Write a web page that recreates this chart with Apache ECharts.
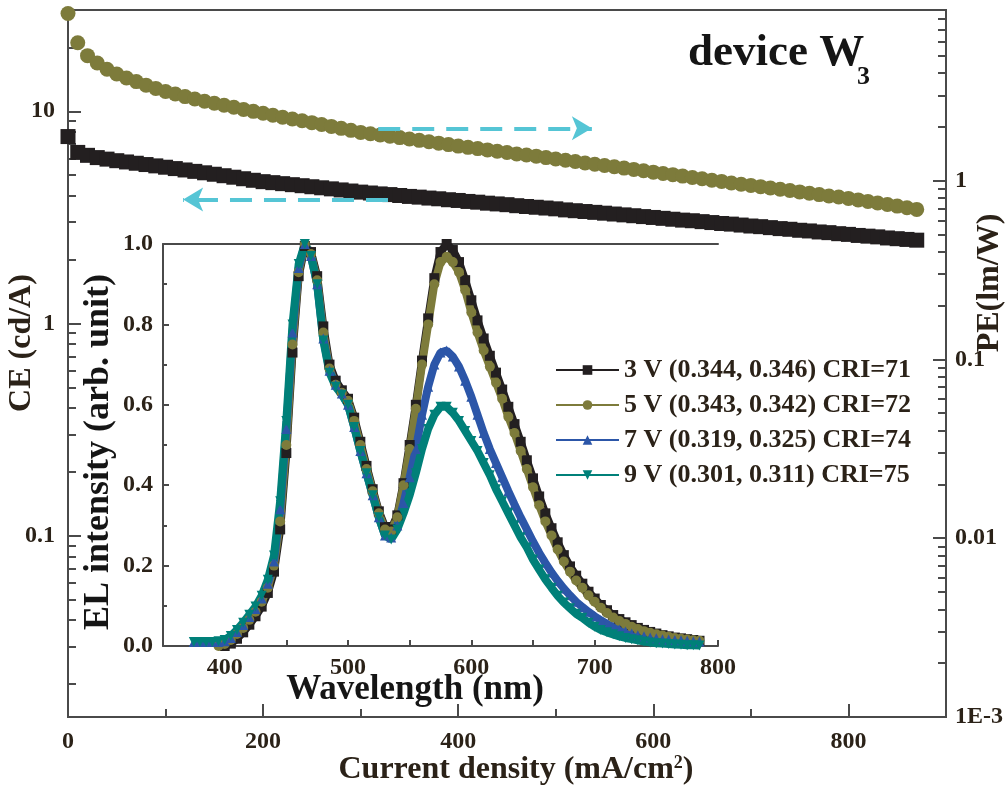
<!DOCTYPE html>
<html>
<head>
<meta charset="utf-8">
<title>device W3</title>
<script src="https://cdn.jsdelivr.net/npm/echarts@6/dist/echarts.min.js"></script>
<style>
  html, body { margin: 0; padding: 0; background: #fff; }
  #chart { width: 1008px; height: 789px; }
</style>
</head>
<body>
<div id="chart"></div>
<script>
// main plot: CE / PE vs current density (mA/cm2)
const currentDensity = [
  0, 10, 20, 30, 40, 50, 60, 70, 80, 90,
  100, 110, 120, 130, 140, 150, 160, 170, 180, 190,
  200, 210, 220, 230, 240, 250, 260, 270, 280, 290,
  300, 310, 320, 330, 340, 350, 360, 370, 380, 390,
  400, 410, 420, 430, 440, 450, 460, 470, 480, 490,
  500, 510, 520, 530, 540, 550, 560, 570, 580, 590,
  600, 610, 620, 630, 640, 650, 660, 670, 680, 690,
  700, 710, 720, 730, 740, 750, 760, 770, 780, 790,
  800, 810, 820, 830, 840, 850, 860, 870
];
const ceValues = [
  7.6, 6.4, 6.2, 6.05, 5.95, 5.85, 5.77, 5.69, 5.61, 5.53,
  5.45, 5.37, 5.29, 5.21, 5.13, 5.05, 4.97, 4.89, 4.81, 4.73,
  4.66, 4.61, 4.56, 4.51, 4.46, 4.41, 4.36, 4.31, 4.26, 4.21,
  4.16, 4.12, 4.08, 4.05, 4.01, 3.97, 3.94, 3.90, 3.87, 3.83,
  3.80, 3.76, 3.73, 3.69, 3.66, 3.63, 3.59, 3.56, 3.53, 3.50,
  3.47, 3.43, 3.40, 3.37, 3.34, 3.31, 3.28, 3.25, 3.22, 3.19,
  3.16, 3.13, 3.10, 3.07, 3.05, 3.02, 2.99, 2.96, 2.94, 2.91,
  2.88, 2.86, 2.83, 2.80, 2.78, 2.75, 2.73, 2.70, 2.68, 2.65,
  2.63, 2.60, 2.58, 2.56, 2.53, 2.51, 2.49, 2.47
];
const peValues = [
  8.6, 5.9, 5.0, 4.55, 4.2, 3.95, 3.75, 3.58, 3.42, 3.28,
  3.15, 3.05, 2.95, 2.86, 2.78, 2.71, 2.64, 2.57, 2.5, 2.44,
  2.38, 2.32, 2.26, 2.21, 2.16, 2.11, 2.06, 2.01, 1.96, 1.91,
  1.86, 1.83, 1.80, 1.77, 1.74, 1.71, 1.68, 1.65, 1.62, 1.59,
  1.56, 1.535, 1.51, 1.485, 1.46, 1.435, 1.41, 1.39, 1.37, 1.345,
  1.32, 1.30, 1.28, 1.255, 1.235, 1.215, 1.195, 1.175, 1.155, 1.135,
  1.115, 1.095, 1.08, 1.06, 1.04, 1.025, 1.005, 0.99, 0.97, 0.955,
  0.94, 0.925, 0.91, 0.895, 0.88, 0.865, 0.85, 0.835, 0.82, 0.81,
  0.795, 0.78, 0.765, 0.75, 0.735, 0.72, 0.705, 0.69
];

// inset: EL spectra (normalized)
const wavelength = [
  375, 380, 385, 390, 395, 400, 405, 410, 415, 420,
  425, 430, 435, 440, 445, 450, 455, 460, 465, 470,
  475, 480, 485, 490, 495, 500, 505, 510, 515, 520,
  525, 530, 535, 540, 545, 550, 555, 560, 565, 570,
  575, 580, 585, 590, 595, 600, 605, 610, 615, 620,
  625, 630, 635, 640, 645, 650, 655, 660, 665, 670,
  675, 680, 685, 690, 695, 700, 705, 710, 715, 720,
  725, 730, 735, 740, 745, 750, 755, 760, 765, 770,
  775, 780, 785
];
const el3V = [
  null, null, null, null, null, 0, .006, .018, .034, .053,
  .074, .098, .132, .185, .29, .48, .73, .92, .995, .98,
  .92, .795, .7, .66, .636, .615, .568, .508, .448, .39,
  .335, .296, .29, .325, .405, .5, .6, .71, .815, .915,
  .98, 1.0, .985, .955, .91, .86, .81, .765, .722, .68,
  .638, .595, .552, .508, .462, .417, .372, .33, .293, .258,
  .226, .198, .175, .155, .135, .118, .102, .089, .077, .067,
  .059, .052, .045, .04, .035, .031, .027, .024, .021, .019,
  .017, .015, .013
];
const el5V = [
  null, null, null, null, 0, .005, .015, .03, .045, .065,
  .085, .11, .145, .2, .31, .5, .75, .93, 1.0, .975,
  .91, .78, .69, .65, .63, .61, .56, .5, .44, .385,
  .33, .29, .285, .32, .4, .49, .59, .7, .8, .9,
  .955, .968, .955, .93, .885, .83, .78, .735, .695, .655,
  .615, .57, .53, .485, .44, .395, .35, .31, .275, .24,
  .21, .185, .163, .145, .126, .11, .095, .082, .071, .062,
  .055, .048, .042, .037, .033, .029, .026, .023, .02, .018,
  .016, .014, .013
];
const el7V = [
  .01, .01, .01, .01, .01, .012, .02, .035, .052, .072,
  .092, .118, .155, .21, .34, .54, .78, .94, 1.0, .97,
  .9, .765, .685, .65, .628, .6, .545, .485, .43, .375,
  .32, .275, .27, .3, .355, .42, .49, .575, .645, .7,
  .73, .735, .72, .695, .66, .62, .575, .53, .49, .455,
  .42, .385, .352, .32, .29, .26, .232, .207, .183, .162,
  .143, .126, .11, .097, .085, .074, .064, .055, .047, .041,
  .036, .031, .027, .024, .021, .019, .017, .016, .015, .014,
  .013, .012, .011
];
const el9V = [
  .01, .01, .01, .01, .012, .015, .025, .04, .058, .078,
  .098, .125, .165, .225, .36, .56, .80, .95, 1.0, .97,
  .9, .76, .68, .645, .625, .6, .545, .485, .43, .375,
  .32, .275, .265, .29, .33, .375, .43, .49, .54, .575,
  .595, .595, .58, .56, .535, .51, .485, .455, .425, .39,
  .36, .33, .3, .27, .245, .215, .19, .166, .145, .125,
  .108, .094, .08, .07, .058, .048, .04, .034, .029, .024,
  .02, .017, .014, .011, .009, .007, .006, .005, .004, .003,
  .002, .002, .001
];
const elNames = [
  '3 V (0.344, 0.346) CRI=71',
  '5 V (0.343, 0.342) CRI=72',
  '7 V (0.319, 0.325) CRI=74',
  '9 V (0.301, 0.311) CRI=75'
];

// tick positions
const xMajor = [0, 200, 400, 600, 800];
const xMinor = [100, 300, 500, 700, 900];
const ceMajor = [0.1, 1, 10];
const ceMinor = [0.02, 0.03, 0.04, 0.05, 0.06, 0.07, 0.08, 0.09,
  0.2, 0.3, 0.4, 0.5, 0.6, 0.7, 0.8, 0.9, 2, 3, 4, 5, 6, 7, 8, 9, 20];
const peMajor = [0.001, 0.01, 0.1, 1];
const peMinor = [0.002, 0.003, 0.004, 0.005, 0.006, 0.007, 0.008, 0.009,
  0.02, 0.03, 0.04, 0.05, 0.06, 0.07, 0.08, 0.09,
  0.2, 0.3, 0.4, 0.5, 0.6, 0.7, 0.8, 0.9, 2, 3, 4, 5, 6, 7, 8];
const insetXTicks = [400, 450, 500, 550, 600, 650, 700, 750, 800];
const insetXLabels = [400, 500, 600, 700, 800];

const SERIF = '"Liberation Serif", "Times New Roman", serif';
const AXIS = '#4a4a4a';
const LABEL = '#2b2218';
const colors = { k: '#231f20', olive: '#7d7b3b', blue: '#2c56a8', teal: '#008079', arrow: '#55c5d5' };

const labelFont = { fontFamily: SERIF, fontWeight: 'bold', fontSize: 24, color: LABEL };
const lineSty = { color: AXIS, width: 2 };

function minorAxis(base, values) {
  return Object.assign({}, base, {
    axisLine: { show: false },
    axisTick: { show: true, inside: true, length: 8, lineStyle: lineSty, customValues: values },
    axisLabel: { show: false },
    splitLine: { show: false }
  });
}

function elSeries(name, values, symbol, color) {
  return {
    name: name, type: 'line', xAxisIndex: 2, yAxisIndex: 4,
    symbol: symbol, symbolSize: 10, showAllSymbol: true,
    lineStyle: { color: color, width: 8 },
    itemStyle: { color: color, opacity: 1 },
    data: wavelength.map((w, i) => [w, values[i]])
  };
}

const chart = echarts.init(document.getElementById('chart'));

const mainX = { gridIndex: 0, type: 'value', position: 'bottom', min: 0, max: 900 };
const ceY = { gridIndex: 0, type: 'log', logBase: 10, position: 'left', min: 0.014, max: 30 };
const peY = { gridIndex: 0, type: 'log', logBase: 10, position: 'right', min: 0.001, max: 9 };

const arrowLine = { color: colors.arrow, width: 4, type: [22, 12] };

const option = {
  animation: false,
  backgroundColor: '#fff',
  grid: [
    { left: 68, top: 10, width: 878, height: 707, containLabel: false, outerBoundsMode: 'none',
      show: true, borderColor: AXIS, borderWidth: 2, backgroundColor: 'transparent' },
    { left: 163, top: 244, width: 555, height: 402, containLabel: false, outerBoundsMode: 'none' }
  ],
  xAxis: [
    Object.assign({}, mainX, {
      axisLine: { onZero: false, lineStyle: lineSty },
      axisTick: { inside: true, length: 13, lineStyle: lineSty, customValues: xMajor },
      axisLabel: Object.assign({ customValues: xMajor, margin: 13 }, labelFont),
      splitLine: { show: false }
    }),
    minorAxis(mainX, xMinor),
    {
      gridIndex: 1, type: 'value', position: 'bottom', min: 350, max: 800,
      axisLine: { onZero: false, lineStyle: lineSty },
      axisTick: { inside: true, length: 6, lineStyle: lineSty, customValues: insetXTicks },
      axisLabel: Object.assign({ customValues: insetXLabels, margin: 10 }, labelFont),
      splitLine: { show: false }
    },
    {
      gridIndex: 1, type: 'value', position: 'top', min: 350, max: 800,
      axisLine: { onZero: false, lineStyle: lineSty },
      axisTick: { show: false }, axisLabel: { show: false }, splitLine: { show: false }
    }
  ],
  yAxis: [
    Object.assign({}, ceY, {
      axisLine: { lineStyle: lineSty },
      axisTick: { inside: true, length: 13, lineStyle: lineSty, customValues: ceMajor },
      axisLabel: Object.assign({
        customValues: ceMajor, margin: 13,
        formatter: v => String(+(+v).toPrecision(2))
      }, labelFont),
      splitLine: { show: false }
    }),
    minorAxis(ceY, ceMinor),
    Object.assign({}, peY, {
      axisLine: { lineStyle: lineSty },
      axisTick: { inside: true, length: 13, lineStyle: lineSty, customValues: peMajor },
      axisLabel: Object.assign({
        customValues: peMajor, margin: 9,
        formatter: v => (+v < 0.002 ? '1E-3' : String(+(+v).toPrecision(2)))
      }, labelFont),
      splitLine: { show: false }
    }),
    minorAxis(peY, peMinor),
    {
      gridIndex: 1, type: 'value', position: 'left', min: 0, max: 1, interval: 0.2,
      axisLine: { onZero: false, lineStyle: lineSty },
      axisTick: { inside: true, length: 6, lineStyle: lineSty },
      minorTick: { show: true, splitNumber: 2, length: 4, lineStyle: lineSty },
      axisLabel: Object.assign({ margin: 10, formatter: v => v.toFixed(1) }, labelFont),
      splitLine: { show: false }
    }
  ],
  legend: {
    data: elNames,
    orient: 'vertical',
    left: 550,
    top: 352,
    itemWidth: 63,
    itemHeight: 12,
    itemGap: 9,
    lineStyle: { width: 2 },
    textStyle: { fontFamily: SERIF, fontWeight: 'bold', fontSize: 26, color: LABEL }
  },
  graphic: { elements: [
    { type: 'text', x: 22, y: 343, rotation: Math.PI / 2,
      style: { text: 'CE (cd/A)', align: 'center', verticalAlign: 'middle',
        font: 'bold 32px ' + SERIF, fill: LABEL } },
    { type: 'text', x: 990, y: 283, rotation: Math.PI / 2,
      style: { text: 'PE(lm/W)', align: 'center', verticalAlign: 'middle',
        font: 'bold 32px ' + SERIF, fill: LABEL } },
    { type: 'text', x: 516, y: 770,
      style: { text: '{a|Current density (mA/cm}{s|2}{a|)}', align: 'center', verticalAlign: 'middle',
        rich: {
          a: { font: 'bold 32px ' + SERIF, fill: LABEL },
          s: { font: 'bold 18px ' + SERIF, fill: LABEL, verticalAlign: 'top', padding: [0, 0, 14, 0] }
        } } },
    { type: 'text', x: 99, y: 452, rotation: Math.PI / 2,
      style: { text: 'EL intensity (arb. unit)', align: 'center', verticalAlign: 'middle',
        font: 'bold 36px ' + SERIF, fill: '#151515' } },
    { type: 'text', x: 415, y: 690,
      style: { text: 'Wavelength (nm)', align: 'center', verticalAlign: 'middle',
        font: 'bold 35px ' + SERIF, fill: '#151515' } },
    { type: 'text', x: 688, y: 53,
      style: { text: 'device W', align: 'left', verticalAlign: 'middle',
        font: 'bold 45px ' + SERIF, fill: '#151515' } },
    { type: 'text', x: 857, y: 77,
      style: { text: '3', align: 'left', verticalAlign: 'middle',
        font: 'bold 26px ' + SERIF, fill: '#151515' } }
  ] },
  series: [
    {
      name: 'CE', type: 'scatter', xAxisIndex: 0, yAxisIndex: 0,
      symbol: 'rect', symbolSize: 15,
      itemStyle: { color: colors.k, opacity: 1 },
      data: currentDensity.map((x, i) => [x, ceValues[i]]),
      markLine: {
        silent: true, symbol: ['none', 'arrow'], symbolSize: [18, 20],
        label: { show: false }, lineStyle: arrowLine,
        data: [[{ coord: [328, 3.84] }, { coord: [118, 3.84] }]]
      }
    },
    {
      name: 'PE', type: 'scatter', xAxisIndex: 0, yAxisIndex: 2,
      symbol: 'circle', symbolSize: 15,
      itemStyle: { color: colors.olive, opacity: 1 },
      data: currentDensity.map((x, i) => [x, peValues[i]]),
      markLine: {
        silent: true, symbol: ['none', 'arrow'], symbolSize: [18, 20],
        label: { show: false }, lineStyle: arrowLine,
        data: [[{ coord: [318, 1.96] }, { coord: [537, 1.96] }]]
      }
    },
    elSeries(elNames[0], el3V, 'rect', colors.k),
    elSeries(elNames[1], el5V, 'circle', colors.olive),
    elSeries(elNames[2], el7V, 'triangle', colors.blue),
    elSeries(elNames[3], el9V, 'path://M0,0 L10,0 L5,9 Z', colors.teal)
  ]
};

chart.setOption(option);
</script>
</body>
</html>
